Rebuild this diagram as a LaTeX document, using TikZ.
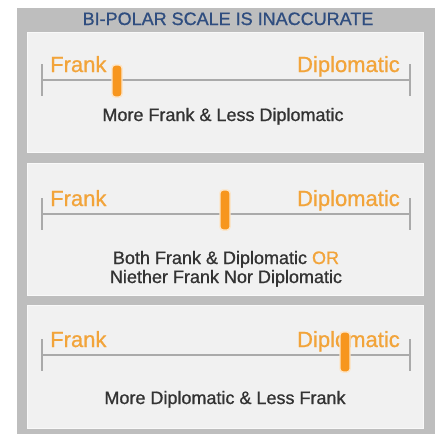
\documentclass[tikz,border=0pt]{standalone}
\usepackage{fontspec}
\setmainfont{Liberation Sans}
\newfontfamily\medfont[FakeBold=0.9]{Liberation Sans}
\usetikzlibrary{positioning}
\definecolor{framegrey}{HTML}{BEBEBE}
\definecolor{panelgrey}{HTML}{F1F1F1}
\definecolor{scalegrey}{HTML}{AAAAAA}
\definecolor{poleorange}{HTML}{F2A43A}
\definecolor{knoborange}{HTML}{F7961E}
\definecolor{titleblue}{HTML}{2F4D7F}
\definecolor{captiongrey}{HTML}{333333}

\begin{document}
\begin{tikzpicture}[
  x=1pt, y=-1pt,
  panel/.style={fill=panelgrey, draw=white!60!panelgrey, line width=0.6pt,
    minimum width=396pt, inner sep=0pt},
  pole/.style={text=poleorange, inner sep=0pt, font=\medfont\fontsize{22}{26}\selectfont},
  caption/.style={text=captiongrey, inner sep=0pt, anchor=base,
    font=\medfont\fontsize{18}{20}\selectfont},
  scaleline/.style={draw=scalegrey, line width=2.2pt},
  knob/.style={fill=knoborange, draw=white!75!knoborange, line width=1.4pt,
    rounded corners=3pt, minimum width=10pt, inner sep=0pt}
]
\useasboundingbox (0,0) rectangle (435,434);
\fill[framegrey] (17,8) rectangle (435,434);

% title
\node[text=titleblue, inner sep=0pt, anchor=base,
  font=\medfont\fontsize{18}{20}\selectfont] (title) at (228,25) {BI-POLAR SCALE IS INACCURATE};

% three panels
\node[panel, minimum height=120pt] (p1) at (225,92) {};
\node[panel, minimum height=132pt] (p2) at (225,229) {};
\node[panel, minimum height=123pt] (p3) at (225,366.5) {};

% scale: line y / knob x / knob centre y / knob height
\foreach \n/\ly/\kx/\ky/\kh in {1/80/117/81/32, 2/214/225/210/40, 3/355/345/352/40} {
  \coordinate (l\n) at (42,\ly);
  \coordinate (r\n) at (410,\ly);
  \coordinate (lt\n) at (42,\ly-16);
  \coordinate (lb\n) at (42,\ly+16);
  \coordinate (rt\n) at (410,\ly-16);
  \coordinate (rb\n) at (410,\ly+16);
  \draw[scaleline] (l\n) -- (r\n);
  \draw[scaleline] (lt\n) -- (lb\n);
  \draw[scaleline] (rt\n) -- (rb\n);
  \node[pole, anchor=base west] (frank\n) at (50,\ly-8) {Frank};
  \node[pole, anchor=base east] (diplo\n) at (400,\ly-8) {Diplomatic};
  \node[knob, minimum height=\kh pt] (knob\n) at (\kx,\ky) {};
}

% captions
\node[caption] (cap1) at (223,121) {More Frank \& Less Diplomatic};
\node[caption] (cap2a) at (226,264) {Both Frank \& Diplomatic \textcolor{poleorange}{OR}};
\node[caption] (cap2b) at (226,283) {Niether Frank Nor Diplomatic};
\node[caption] (cap3) at (225,404) {More Diplomatic \& Less Frank};

\end{tikzpicture}
\end{document}
